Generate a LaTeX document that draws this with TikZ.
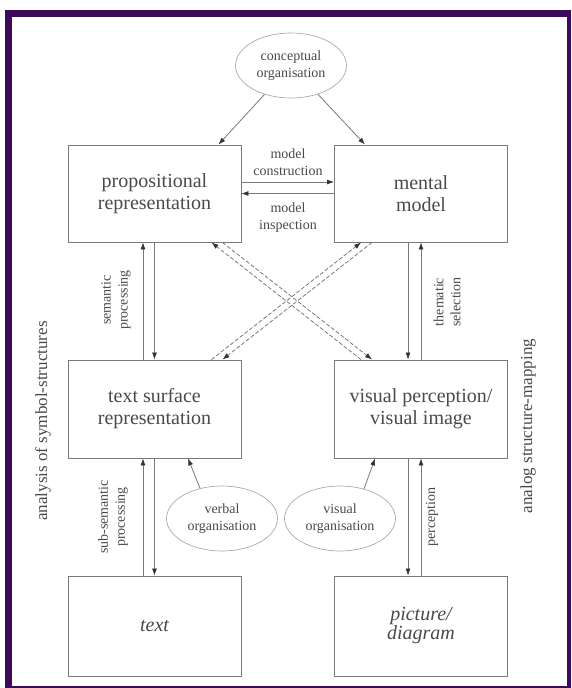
\documentclass[tikz,border=0pt]{standalone}
\usepackage{fontspec}
\setmainfont{Liberation Serif}
\usetikzlibrary{arrows.meta,shapes.geometric}
\definecolor{framepurple}{HTML}{3D0959}
\definecolor{linegray}{HTML}{7A7A7A}
\definecolor{tipgray}{HTML}{333333}
\definecolor{textgray}{HTML}{4A4A4A}
\definecolor{ellgray}{HTML}{ABABAB}
\begin{document}
\begin{tikzpicture}[x=1pt,y=-1pt,
  box/.style={draw=linegray,line width=0.9pt,rectangle,minimum width=173pt,minimum height=97pt,inner sep=0pt,align=center,text=textgray,font=\fontsize{20}{22}\selectfont},
  oval/.style={draw=ellgray,line width=0.7pt,ellipse,minimum width=111pt,minimum height=65pt,inner sep=0pt,align=center,text=textgray,font=\fontsize{14}{17}\selectfont},
  lbl/.style={align=center,text=textgray,inner sep=0pt,font=\fontsize{14}{17}\selectfont},
  side/.style={rotate=90,text=textgray,inner sep=0pt,font=\fontsize{17}{20}\selectfont},
  arr/.style={draw=linegray,line width=0.8pt,-{Latex[length=7pt,width=5pt,color=tipgray]}},
  darr/.style={arr,dash pattern=on 4pt off 2pt}]
\useasboundingbox (0,0) rectangle (571,688);
\fill[framepurple] (5,10) rectangle (571,688);
\fill[white] (12,17) rectangle (567,686);

\node[box] (prop) at (154.5,193.5) {propositional\\representation};
\node[box] (mental) at (421,193.5) {mental\\model};
\node[box,minimum height=98pt] (surf) at (154.5,409) {text surface\\representation};
\node[box,minimum height=98pt] (vis) at (421,409) {visual perception/\\visual image};
\node[box,minimum height=100pt,font=\itshape\fontsize{20}{19}\selectfont] (txt) at (154.5,626) {text};
\node[box,minimum height=100pt,font=\itshape\fontsize{20}{19}\selectfont] (pic) at (421,626) {picture/\\diagram};

\node[oval] (concept) at (291,65.5) {conceptual\\organisation};
\node[oval] (verbal) at (222,518.5) {verbal\\organisation};
\node[oval] (visorg) at (340,518.5) {visual\\organisation};

\draw[arr] (concept) -- ([xshift=64pt]prop.north);
\draw[arr] (concept) -- ([xshift=-56pt]mental.north);

\draw[arr] ([yshift=11.5pt]prop.east) -- ([yshift=11.5pt]mental.west);
\draw[arr] (mental.west) -- (prop.east);
\node[lbl,anchor=south] (construct) at (288,176) {model\\construction};
\node[lbl,anchor=north] (inspect) at (288,203) {model\\inspection};

\draw[arr] ([xshift=-11.5pt]surf.north) -- ([xshift=-11.5pt]prop.south);
\draw[arr] (prop.south) -- (surf.north);
\draw[arr] ([xshift=-13pt]mental.south) -- ([xshift=-13pt]vis.north);
\draw[arr] (vis.north) -- (mental.south);
\draw[arr] ([xshift=-11.5pt]txt.north) -- ([xshift=-11.5pt]surf.south);
\draw[arr] (surf.south) -- (txt.north);
\draw[arr] ([xshift=-13pt]vis.south) -- ([xshift=-13pt]pic.north);
\draw[arr] (pic.north) -- (vis.south);

\node[lbl,rotate=90] (sempro) at (116,300) {semantic\\processing};
\node[lbl,rotate=90] (themsel) at (447,302) {thematic\\selection};
\node[lbl,rotate=90] (subsem) at (113,517) {sub-semantic\\processing};
\node[lbl,rotate=90] (percep) at (432,517) {perception};

\draw[darr] ([xshift=27pt]vis.north west) -- ([xshift=-30pt]prop.south east);
\draw[darr] ([xshift=-19pt]prop.south east) -- ([xshift=38pt]vis.north west);
\draw[darr] ([xshift=-30pt]surf.north east) -- ([xshift=27pt]mental.south west);
\draw[darr] ([xshift=38pt]mental.south west) -- ([xshift=-19pt]surf.north east);

\draw[arr] (verbal.126) -- ([xshift=33.5pt]surf.south);
\draw[arr] (visorg.51) -- ([xshift=-46pt]vis.south);

\node[side] (symbol) at (43,421) {analysis of symbol-structures};
\node[side] (analog) at (528,426) {analog structure-mapping};
\end{tikzpicture}
\end{document}
